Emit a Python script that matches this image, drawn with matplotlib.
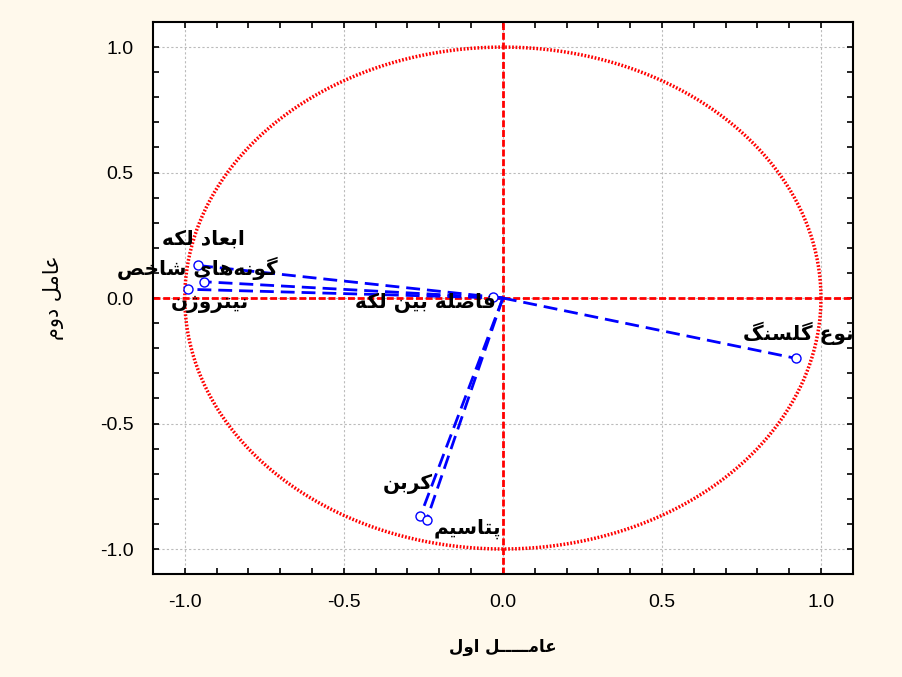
import numpy as np
import matplotlib
matplotlib.use("Agg")
import matplotlib.pyplot as plt
from matplotlib.ticker import MultipleLocator, FormatStrFormatter

# loadings on the first two factors
variables = ["ابعاد لکه", "گونه‌های شاخص", "نیتروژن", "فاصله بین لکه",
             "نوع گلسنگ", "کربن", "پتاسیم"]
factor1 = [-0.96, -0.94, -0.99, -0.03, 0.92, -0.26, -0.24]
factor2 = [0.13, 0.065, 0.035, 0.005, -0.24, -0.87, -0.885]

xlabel = "عامـــــل اول"
ylabel = "عامل دوم"

# where each label sits (data coords)
label_pos = [(-0.94, 0.235), (-0.96, 0.12), (-0.92, -0.02), (-0.245, -0.02),
             (0.93, -0.14), (-0.30, -0.74), (-0.11, -0.92)]

# --- minimal arabic/persian shaping (matplotlib has no complex text layout) ---
# letter: (isolated, final, initial, medial)
forms = {
    "ا": ("\uFE8D", "\uFE8E", None, None),
    "ب": ("\uFE8F", "\uFE90", "\uFE91", "\uFE92"),
    "پ": ("\uFB56", "\uFB57", "\uFB58", "\uFB59"),
    "ت": ("\uFE95", "\uFE96", "\uFE97", "\uFE98"),
    "خ": ("\uFEA5", "\uFEA6", "\uFEA7", "\uFEA8"),
    "د": ("\uFEA9", "\uFEAA", None, None),
    "ر": ("\uFEAD", "\uFEAE", None, None),
    "ژ": ("\uFB8A", "\uFB8B", None, None),
    "س": ("\uFEB1", "\uFEB2", "\uFEB3", "\uFEB4"),
    "ش": ("\uFEB5", "\uFEB6", "\uFEB7", "\uFEB8"),
    "ص": ("\uFEB9", "\uFEBA", "\uFEBB", "\uFEBC"),
    "ع": ("\uFEC9", "\uFECA", "\uFECB", "\uFECC"),
    "ف": ("\uFED1", "\uFED2", "\uFED3", "\uFED4"),
    "ل": ("\uFEDD", "\uFEDE", "\uFEDF", "\uFEE0"),
    "م": ("\uFEE1", "\uFEE2", "\uFEE3", "\uFEE4"),
    "ن": ("\uFEE5", "\uFEE6", "\uFEE7", "\uFEE8"),
    "ه": ("\uFEE9", "\uFEEA", "\uFEEB", "\uFEEC"),
    "و": ("\uFEED", "\uFEEE", None, None),
    "ی": ("\uFBFC", "\uFBFD", "\uFBFE", "\uFBFF"),
    "ک": ("\uFB8E", "\uFB8F", "\uFB90", "\uFB91"),
    "گ": ("\uFB92", "\uFB93", "\uFB94", "\uFB95"),
    "ـ": ("ـ", "ـ", "ـ", "ـ"),
}


def shape(text):
    chars = list(text)
    out = []
    for i, c in enumerate(chars):
        if c not in forms:
            if c != "\u200c":
                out.append(c)
            continue
        prev = chars[i - 1] if i > 0 else None
        nxt = chars[i + 1] if i + 1 < len(chars) else None
        join_prev = prev in forms and forms[prev][2] is not None
        join_next = forms[c][2] is not None and nxt in forms
        iso, fin, ini, med = forms[c]
        if join_prev and join_next:
            out.append(med)
        elif join_prev:
            out.append(fin)
        elif join_next:
            out.append(ini)
        else:
            out.append(iso)
    return "".join(out[::-1])


plt.rcParams["axes.unicode_minus"] = False
bg = "#FFF9EC"

fig = plt.figure(figsize=(9.03, 6.77), dpi=100, facecolor=bg)
ax = fig.add_axes([0.1694, 0.152, 0.775, 0.8155])
ax.set_facecolor("white")

# unit circle and axes through origin
t = np.linspace(0, 2 * np.pi, 400)
ax.plot(np.cos(t), np.sin(t), color="red", lw=2.5, linestyle=(0, (0.5, 0.5)), zorder=2)
ax.axhline(0, color="red", lw=2, linestyle=(0, (2.5, 1)), zorder=2)
ax.axvline(0, color="red", lw=2, linestyle=(0, (2.5, 1)), zorder=2)

for x, y in zip(factor1, factor2):
    ax.plot([0, x], [0, y], color="#0000FF", lw=2, linestyle=(0, (5, 2.5)), zorder=3)
    ax.plot(x, y, marker="o", ms=6.5, mfc="white", mec="#0000FF", mew=1, zorder=4)

for name, (lx, ly) in zip(variables, label_pos):
    ax.text(lx, ly, shape(name), family="DejaVu Sans", fontweight="bold",
            fontsize=14.5, ha="center", va="center", zorder=5)

ax.set_xlim(-1.1, 1.1)
ax.set_ylim(-1.1, 1.1)
ax.xaxis.set_major_locator(MultipleLocator(0.5))
ax.yaxis.set_major_locator(MultipleLocator(0.5))
ax.xaxis.set_minor_locator(MultipleLocator(0.1))
ax.yaxis.set_minor_locator(MultipleLocator(0.1))
ax.xaxis.set_major_formatter(FormatStrFormatter("%.1f"))
ax.yaxis.set_major_formatter(FormatStrFormatter("%.1f"))
ax.tick_params(which="both", direction="in", top=True, right=True,
               length=4, width=1.2, color="black")
ax.tick_params(which="major", labelsize=14, pad=14)
for lab in ax.get_xticklabels() + ax.get_yticklabels():
    lab.set_family("Liberation Sans")
ax.grid(True, which="major", color="#BBBBBB", linestyle=(0, (2, 2)), lw=0.8, zorder=0)
for s in ax.spines.values():
    s.set_linewidth(1.5)

ax.set_xlabel(shape(xlabel), family="DejaVu Sans", fontweight="bold", fontsize=12, labelpad=20)
ax.set_ylabel(shape(ylabel), family="DejaVu Sans", fontsize=15, labelpad=26)

fig.savefig("out.png", dpi=100, facecolor=bg)
